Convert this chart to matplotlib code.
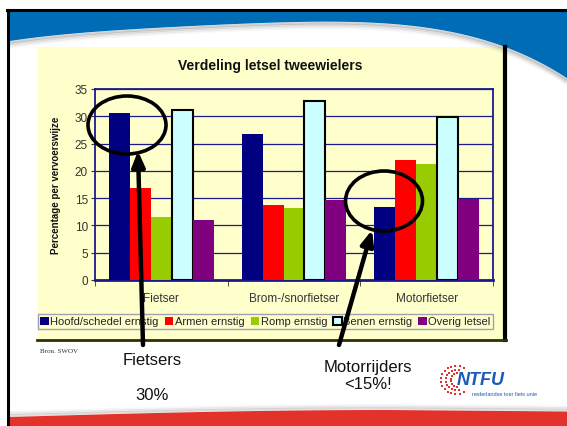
import numpy as np
import matplotlib
matplotlib.use("Agg")
import matplotlib.pyplot as plt
from matplotlib.patches import Rectangle, Ellipse, Polygon

plt.rcParams['font.family'] = ['Liberation Sans', 'DejaVu Sans']

# ---------------- data ----------------
categories = ["Fietser", "Brom-/snorfietser", "Motorfietser"]
series_names = ["Hoofd/schedel ernstig", "Armen ernstig", "Romp ernstig",
                "Benen ernstig", "Overig letsel"]
hoofd = [30.6, 26.7, 13.4]
armen = [16.9, 13.7, 22.0]
romp = [11.5, 13.2, 21.3]
benen = [31.2, 32.8, 29.8]
overig = [11.0, 14.6, 14.8]
series_values = [hoofd, armen, romp, benen, overig]
series_colors = ["#000080", "#FF0000", "#99CC00", "#CCFFFF", "#800080"]
yticks = [0, 5, 10, 15, 20, 25, 30, 35]

W, H = 567, 427
fig = plt.figure(figsize=(W / 100, H / 100), dpi=100)
fig.patch.set_facecolor("white")

def fx(x):
    return x / W

def fy(y):
    return 1 - y / H

# ---------------- background slide ----------------
bg = fig.add_axes([0, 0, 1, 1], zorder=0)
bg.set_xlim(0, W)
bg.set_ylim(H, 0)
bg.axis("off")

cx = np.array([9, 100, 200, 290, 380, 450, 500, 540, 567])
cy = np.array([42, 33, 26, 23, 25, 32, 47, 62, 80])
coef = np.polyfit(cx, cy, 4)
xs = np.linspace(9, 567, 200)
ys = np.polyval(coef, xs)
blue_poly = np.vstack([np.column_stack([xs, ys]), [[567, 11], [9, 11]]])
bg.add_patch(Polygon(blue_poly, closed=True, facecolor="#006CB6", edgecolor="none"))
for k, a in enumerate([0.35, 0.22, 0.12, 0.06]):
    bg.plot(xs, ys + 1.5 + k * 1.6, color="gray", alpha=a, lw=1.8, solid_capstyle="butt")

rx = np.linspace(9, 567, 200)
ry = 418 - 7 * np.sin(np.clip((rx - 9) / 380, 0, 1) * np.pi / 2) + np.clip((rx - 389) / 178, 0, 1) * 1.5
red_poly = np.vstack([np.column_stack([rx, ry]), [[567, 427], [9, 427]]])
for k, a in enumerate([0.25, 0.14, 0.07]):
    bg.plot(rx, ry - 1.5 - k * 1.6, color="gray", alpha=a, lw=1.8)
bg.add_patch(Polygon(red_poly, closed=True, facecolor="#E3322B", edgecolor="none"))

bg.plot([7, 567], [11, 11], color="black", lw=2.2)
bg.plot([8, 8], [11, 427], color="black", lw=2.2)

# chart panel
bg.add_patch(Rectangle((37, 48), 467, 292, facecolor="#FFFFCC", edgecolor="none"))
bg.plot([505, 505], [48, 341], color="black", lw=3)
bg.plot([37, 506], [341, 341], color="#2B3300", lw=2)

# ---------------- chart ----------------
left, right, top, bottom = 95, 493, 90, 281
ax = fig.add_axes([fx(left), fy(bottom), fx(right - left), (bottom - top) / H], zorder=2)
ax.set_facecolor("#FFFFCC")
x = np.arange(len(categories))
bw = 0.158
for i, (vals, col) in enumerate(zip(series_values, series_colors)):
    if series_names[i] == "Benen ernstig":
        ax.bar(x + (i - 2) * bw, vals, bw, color=col, edgecolor="black",
               linewidth=1.5, zorder=3, label=series_names[i])
    else:
        ax.bar(x + (i - 2) * bw, vals, bw, color=col, edgecolor="none",
               zorder=3, label=series_names[i])
ax.set_xlim(-0.5, 2.5)
ax.set_ylim(0, 35)
ax.set_yticks(yticks)
ax.set_yticklabels([str(t) for t in yticks], fontsize=8.5, color="#333333")
ax.set_xticks(x)
ax.set_xticklabels(categories, fontsize=8.5, color="#333333")
ax.set_xticks([-0.5, 0.5, 1.5, 2.5], minor=True)
ax.tick_params(axis="x", which="major", length=0, pad=9)
ax.tick_params(axis="x", which="minor", length=4, color="#333333", direction="out")
ax.tick_params(axis="y", length=3, color="#333333", direction="out", pad=2)
ax.grid(axis="y", color="#1A1A8C", lw=0.9, zorder=1)
for s in ax.spines.values():
    s.set_color("#1A1A8C")
    s.set_linewidth(1.3)
ax.spines["bottom"].set_linewidth(2)
ax.set_axisbelow(True)

fig.text(fx(270), fy(66), "Verdeling letsel tweewielers", ha="center", va="center",
         fontsize=10, fontweight="bold", color="#111111")
fig.text(fx(56), fy(185), "Percentage per vervoerswijze", ha="center", va="center",
         rotation=90, fontsize=7, fontweight="bold", color="#111111")

handles, labels = ax.get_legend_handles_labels()
leg = fig.legend(handles, labels, loc="center", ncol=5,
                 bbox_to_anchor=(fx(265.5), fy(322.5)), fontsize=8,
                 frameon=True, fancybox=False, handlelength=0.75, handleheight=0.75,
                 handletextpad=0.15, columnspacing=0.55, borderpad=0.25,
                 borderaxespad=0)
leg.get_frame().set_edgecolor("#8888AA")
leg.get_frame().set_facecolor("#FFFFCC")
leg.get_frame().set_linewidth(1)
leg.set_zorder(3)
for t in leg.get_texts():
    t.set_color("#222222")

# ---------------- annotations ----------------
ov = fig.add_axes([0, 0, 1, 1], zorder=5)
ov.set_xlim(0, W)
ov.set_ylim(H, 0)
ov.axis("off")
ov.patch.set_alpha(0)
ov.add_patch(Ellipse((127, 126), 78, 58, fill=False, edgecolor="black", lw=2.6))
ov.add_patch(Ellipse((384, 202), 77, 60, fill=False, edgecolor="black", lw=2.6))
ov.annotate("", xy=(138, 152), xytext=(143, 346),
            arrowprops=dict(arrowstyle="-|>,head_length=0.9,head_width=0.38",
                            lw=3.2, color="black", shrinkA=0, shrinkB=0))
ov.annotate("", xy=(372, 231), xytext=(339, 346),
            arrowprops=dict(arrowstyle="-|>,head_length=0.9,head_width=0.38",
                            lw=3.2, color="black", shrinkA=0, shrinkB=0))

ov.text(40, 352, "Bron. SWOV", fontsize=5, family=["Liberation Serif", "DejaVu Serif"],
        color="#333333", va="center", ha="left")
ov.text(152, 361, "Fietsers", fontsize=12, ha="center", va="center", color="#111111")
ov.text(152, 396, "30%", fontsize=12, ha="center", va="center", color="#111111")
ov.text(368, 368, "Motorrijders", fontsize=12, ha="center", va="center", color="#111111")
ov.text(368, 385, "<15%!", fontsize=12, ha="center", va="center", color="#111111")

# NTFU logo
ang = np.linspace(np.radians(60), np.radians(300), 16)
ov.scatter(456 + 15 * np.cos(ang), 381 - 14 * np.sin(ang), s=2.5, color="#E3322B",
           marker="s", linewidths=0)
ang2 = np.linspace(np.radians(80), np.radians(280), 12)
ov.scatter(457 + 11 * np.cos(ang2), 381 - 10.5 * np.sin(ang2), s=2.5,
           color="#E3322B", marker="s", linewidths=0)
ang3 = np.linspace(np.radians(100), np.radians(260), 8)
ov.scatter(458 + 7.5 * np.cos(ang3), 381 - 7.5 * np.sin(ang3), s=2,
           color="#E3322B", marker="s", linewidths=0)
ov.text(457, 381, "NTFU", fontsize=13, fontweight="bold", style="italic",
        color="#1A5BB5", ha="left", va="center")
ov.text(472, 394.5, "nederlandse toer fiets unie", fontsize=4, color="#1A5BB5",
        ha="left", va="center")

fig.savefig("out.png", dpi=100)
